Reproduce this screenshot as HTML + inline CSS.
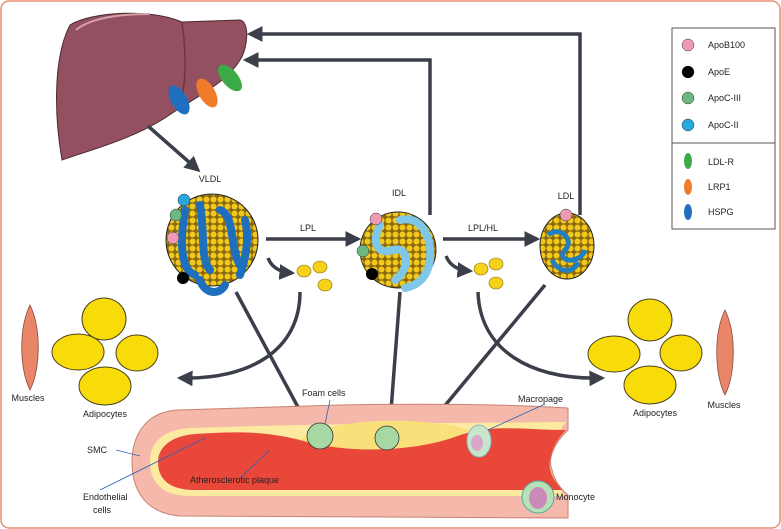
<!DOCTYPE html>
<html><head><meta charset="utf-8"><style>
body{margin:0;background:#fff}
svg{display:block;font-family:"Liberation Sans",sans-serif}
</style></head><body>
<svg width="781" height="529" viewBox="0 0 781 529" xmlns="http://www.w3.org/2000/svg">
<defs>
<marker id="ah" viewBox="0 0 10 10" refX="8" refY="5" markerWidth="4.5" markerHeight="4.5" orient="auto"><path d="M0,0L10,5L0,10z" fill="#3a3f4a"/></marker>
<pattern id="dots" width="7" height="7" patternUnits="userSpaceOnUse"><rect width="7" height="7" fill="#8a6a10"/><circle cx="3.5" cy="3.5" r="3" fill="#f2c81c"/></pattern>
</defs>
<rect x="1" y="1" width="779" height="527" rx="8" fill="#fff" stroke="#ea8d72" stroke-width="1.5"/>
<!-- liver -->
<path d="M70,25 C90,12 150,8 182,22 L240,20 C250,22 248,48 240,60 C225,85 190,100 165,118 C130,140 90,150 62,160 C55,120 52,60 70,25Z" fill="#935061" stroke="#4a2a30" stroke-width="1"/>
<path d="M182,22 C186,50 186,80 182,95" stroke="#6f3443" stroke-width="1.5" fill="none"/>
<path d="M76,30 C90,18 120,14 150,14" stroke="#d6a0aa" stroke-width="2" fill="none"/>
<ellipse cx="179" cy="100" rx="8" ry="16" transform="rotate(-30 179 100)" fill="#1f6fbf"/>
<ellipse cx="207" cy="93" rx="8" ry="16" transform="rotate(-30 207 93)" fill="#f07c2a"/>
<ellipse cx="230" cy="78" rx="8" ry="16" transform="rotate(-40 230 78)" fill="#3caa46"/>
<g stroke="#3a3f4a" stroke-width="3.5" fill="none" marker-end="url(#ah)">
<path d="M148,126 L198,170"/>
<path d="M430,215 L430,60 L246,60"/>
<path d="M580,215 L580,34 L250,34"/>
<path d="M266,239 L358,239"/>
<path d="M443,239 L537,239"/>
<path d="M268,258 C272,268 280,272 292,273"/>
<path d="M446,256 C450,266 458,270 470,271"/>
<path d="M236,292 L306,422"/>
<path d="M400,292 L390,424"/>
<path d="M545,285 L433,420"/>
<path d="M300,292 C300,350 250,380 180,378"/>
<path d="M478,292 C480,350 530,380 602,378"/>
<path d="M468,443 L418,443"/>
<path d="M534,475 C534,455 524,445 508,443"/>
</g>
<!-- VLDL -->
<circle cx="212" cy="240" r="46" fill="url(#dots)" stroke="#222" stroke-width="1"/>
<path d="M185,210 C180,240 180,270 195,275 M200,205 C205,230 200,260 210,270 M220,210 C235,215 230,250 240,265 M245,220 C250,240 245,260 240,275 M200,280 C205,295 220,295 225,285" stroke="#1f6fbf" stroke-width="8" fill="none" stroke-linecap="round"/>
<circle cx="184" cy="200" r="6" fill="#29a8e0" stroke="#333" stroke-width=".5"/>
<circle cx="176" cy="215" r="6" fill="#6db880" stroke="#333" stroke-width=".5"/>
<circle cx="173" cy="238" r="6" fill="#ef9ab5" stroke="#333" stroke-width=".5"/>
<circle cx="183" cy="278" r="6" fill="#000"/>
<!-- IDL -->
<circle cx="398" cy="250" r="38" fill="url(#dots)" stroke="#222" stroke-width="1"/>
<path d="M380,225 C370,245 380,255 392,250 C410,245 410,270 395,280 M400,220 C420,215 432,235 430,260 C428,275 420,285 405,288" stroke="#7fc7e8" stroke-width="8" fill="none" stroke-linecap="round"/>
<circle cx="376" cy="219" r="6" fill="#ef9ab5" stroke="#333" stroke-width=".5"/>
<circle cx="363" cy="251" r="6" fill="#6db880" stroke="#333" stroke-width=".5"/>
<circle cx="372" cy="274" r="6" fill="#000"/>
<!-- LDL -->
<ellipse cx="567" cy="246" rx="27" ry="33" fill="url(#dots)" stroke="#222" stroke-width="1"/>
<path d="M548,235 C560,225 575,240 565,250 C555,262 580,265 585,250 M552,260 C560,275 575,272 578,262" stroke="#1f7fc0" stroke-width="5" fill="none"/>
<circle cx="566" cy="215" r="6" fill="#ef9ab5" stroke="#333" stroke-width=".5"/>
<g font-size="9" fill="#222" text-anchor="middle">
<text x="210" y="182">VLDL</text><text x="399" y="196">IDL</text><text x="566" y="199">LDL</text>
<text x="308" y="231">LPL</text><text x="483" y="231">LPL/HL</text>
</g>
<!-- fat droplets -->
<g fill="#f6d21a" stroke="#8a6a10" stroke-width=".6">
<ellipse cx="304" cy="271" rx="7" ry="6"/><ellipse cx="320" cy="267" rx="7" ry="6"/><ellipse cx="325" cy="285" rx="7" ry="6"/>
<ellipse cx="481" cy="269" rx="7" ry="6"/><ellipse cx="496" cy="264" rx="7" ry="6"/><ellipse cx="496" cy="283" rx="7" ry="6"/>
</g>
<!-- adipocytes -->
<g fill="#f7dc0a" stroke="#4a4020" stroke-width="1">
<ellipse cx="104" cy="319" rx="22" ry="21"/><ellipse cx="78" cy="352" rx="26" ry="18"/><ellipse cx="137" cy="353" rx="21" ry="18"/><ellipse cx="105" cy="386" rx="26" ry="19"/>
<ellipse cx="650" cy="320" rx="22" ry="21"/><ellipse cx="614" cy="354" rx="26" ry="18"/><ellipse cx="681" cy="353" rx="21" ry="18"/><ellipse cx="650" cy="385" rx="26" ry="19"/>
</g>
<!-- muscles -->
<path d="M30,305 C42,330 40,370 30,390 C20,370 18,330 30,305Z" fill="#e9866a" stroke="#8a4a3a" stroke-width=".8"/>
<path d="M725,310 C737,335 735,375 725,395 C715,375 713,335 725,310Z" fill="#e9866a" stroke="#8a4a3a" stroke-width=".8"/>
<g font-size="9" fill="#222" text-anchor="middle">
<text x="28" y="401">Muscles</text><text x="105" y="417">Adipocytes</text>
<text x="655" y="416">Adipocytes</text><text x="724" y="408">Muscles</text>
</g>
<!-- artery -->
<path d="M568,408 L568,430 C552,445 548,460 552,470 C555,482 562,490 568,495 L568,518 L180,516 C145,513 132,490 132,462 C132,440 142,412 178,410 L340,405 C450,403 520,405 568,408Z" fill="#f4b9aa" stroke="#c9826f" stroke-width="1"/>
<path d="M566,422 C450,423 350,423 190,428 C160,430 150,445 150,462 C150,480 160,496 190,496 L566,496 C555,485 548,470 550,460 C552,445 558,432 566,422Z" fill="#fbeaa0"/>
<path d="M566,430 C530,430 500,425 470,432 C430,445 360,455 300,440 C260,430 230,432 195,434 C170,436 158,448 158,462 C158,478 168,490 195,490 L562,490 C553,480 548,470 550,460 C552,448 558,438 566,430Z" fill="#e8473a"/>
<path d="M300,440 C330,418 420,415 470,430 C440,448 360,458 300,440Z" fill="#f9e07a"/>
<circle cx="320" cy="436" r="13" fill="#a6d8a4" stroke="#333" stroke-width=".8"/>
<circle cx="387" cy="438" r="12" fill="#a6d8a4" stroke="#333" stroke-width=".8"/>
<ellipse cx="479" cy="441" rx="12" ry="16" fill="#c8e6cc" stroke="#8bb"/>
<ellipse cx="477" cy="443" rx="6" ry="8" fill="#d9a8c8"/>
<circle cx="538" cy="497" r="16" fill="#b8e0b8" stroke="#5a9"/>
<ellipse cx="538" cy="498" rx="9" ry="11" fill="#c98ab8"/>
<g stroke="#2a62b8" stroke-width=".8">
<line x1="116" y1="450" x2="140" y2="456"/><line x1="330" y1="400" x2="325" y2="424"/>
<line x1="545" y1="404" x2="488" y2="430"/><line x1="100" y1="490" x2="205" y2="438"/>
<line x1="240" y1="478" x2="270" y2="450"/>
</g>
<g font-size="9" fill="#222">
<text x="302" y="396">Foam cells</text><text x="518" y="402">Macropage</text>
<text x="87" y="453">SMC</text><text x="190" y="483">Atherosclerotic plaque</text>
<text x="83" y="500">Endothelial</text><text x="93" y="513">cells</text>
<text x="556" y="500">Monocyte</text>
</g>
<!-- legend -->
<rect x="672" y="28" width="103" height="201" fill="#fff" stroke="#555" stroke-width="1"/>
<line x1="672" y1="143" x2="775" y2="143" stroke="#555"/>
<g stroke="#333" stroke-width=".5">
<circle cx="688" cy="45" r="6" fill="#ef9ab5"/><circle cx="688" cy="72" r="6" fill="#000"/>
<circle cx="688" cy="98" r="6" fill="#6db880"/><circle cx="688" cy="125" r="6" fill="#29a8e0"/>
<ellipse cx="688" cy="161" rx="4" ry="8" fill="#3caa46" stroke="none"/>
<ellipse cx="688" cy="187" rx="4" ry="8" fill="#f07c2a" stroke="none"/>
<ellipse cx="688" cy="212" rx="4" ry="8" fill="#1f6fbf" stroke="none"/>
</g>
<g font-size="9" fill="#222">
<text x="708" y="48">ApoB100</text><text x="708" y="75">ApoE</text><text x="708" y="101">ApoC-III</text><text x="708" y="128">ApoC-II</text>
<text x="708" y="165">LDL-R</text><text x="708" y="190">LRP1</text><text x="708" y="215">HSPG</text>
</g>
</svg>
</body></html>
